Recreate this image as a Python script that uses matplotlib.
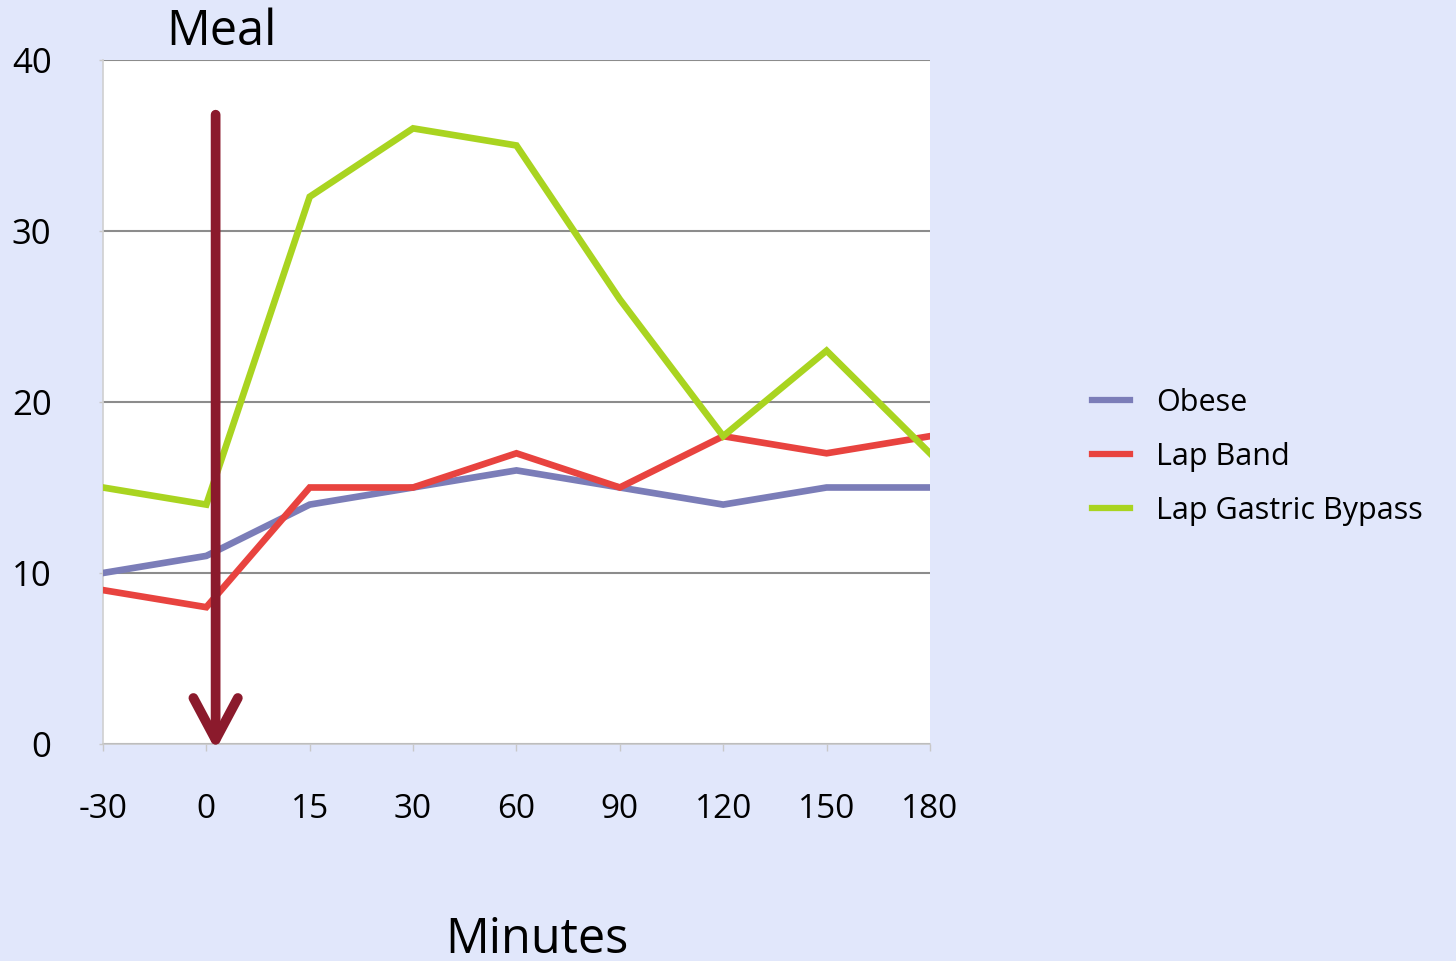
import matplotlib
matplotlib.use("Agg")
import matplotlib.pyplot as plt

# Time points after the meal and measured values per group
minutes = ["-30", "0", "15", "30", "60", "90", "120", "150", "180"]
obese = [10, 11, 14, 15, 16, 15, 14, 15, 15]
lap_band = [9, 8, 15, 15, 17, 15, 18, 17, 18]
lap_gastric_bypass = [15, 14, 32, 36, 35, 26, 18, 23, 17]

series = [
    ("Obese", obese, "#7B7DB8"),
    ("Lap Band", lap_band, "#E8433F"),
    ("Lap Gastric Bypass", lap_gastric_bypass, "#A9D420"),
]

bg = "#E1E7FB"
plt.rcParams["font.family"] = ["Open Sans", "DejaVu Sans"]

fig = plt.figure(figsize=(14.56, 9.61), dpi=100, facecolor=bg)
ax = fig.add_axes([0.0707, 0.2258, 0.5680, 0.7118])
ax.set_facecolor("white")

x = list(range(len(minutes)))
for name, vals, color in series:
    ax.plot(x, vals, color=color, lw=4.8, label=name, solid_joinstyle="miter", zorder=3)

ax.set_xlim(0, len(minutes) - 1)
ax.set_ylim(0, 40)
ax.set_yticks([0, 10, 20, 30, 40])
ax.set_xticks(x)
ax.set_xticklabels(minutes)
ax.yaxis.grid(True, color="#8C8C8C", lw=1.5, zorder=1)
ax.set_axisbelow(True)

for side in ("top", "right"):
    ax.spines[side].set_visible(False)
ax.spines["left"].set_color("#D0D0D0")
ax.spines["bottom"].set_color("#C8C8C8")
ax.spines["left"].set_linewidth(1.2)
ax.spines["bottom"].set_linewidth(1.2)

ax.tick_params(axis="y", length=3, width=1, color="#C8C8C8", pad=34, labelsize=25)
ax.tick_params(axis="x", length=5, width=1, color="#C8C8C8", direction="out",
               pad=30, labelsize=24)

# Meal marker arrow
ax.annotate("", xy=(1.09, -0.35), xytext=(1.09, 36.8),
            arrowprops=dict(arrowstyle="->,head_length=1.5,head_width=0.8",
                            color="#8B1A2C", lw=7.0, mutation_scale=20,
                            shrinkA=0, shrinkB=0, capstyle="round",
                            joinstyle="round"),
            zorder=5, annotation_clip=False)

fig.text(0.152, 0.966, "Meal", fontsize=35, ha="center", va="center")
fig.text(0.369, 0.022, "Minutes", fontsize=35, ha="center", va="center")

leg = ax.legend(loc="center left", bbox_to_anchor=(1.163, 0.42), frameon=False,
                fontsize=22, handlelength=1.25, handletextpad=0.85,
                labelspacing=0.78)
for h in leg.get_lines():
    h.set_linewidth(4.5)

fig.savefig("out.png", dpi=100, facecolor=bg)
